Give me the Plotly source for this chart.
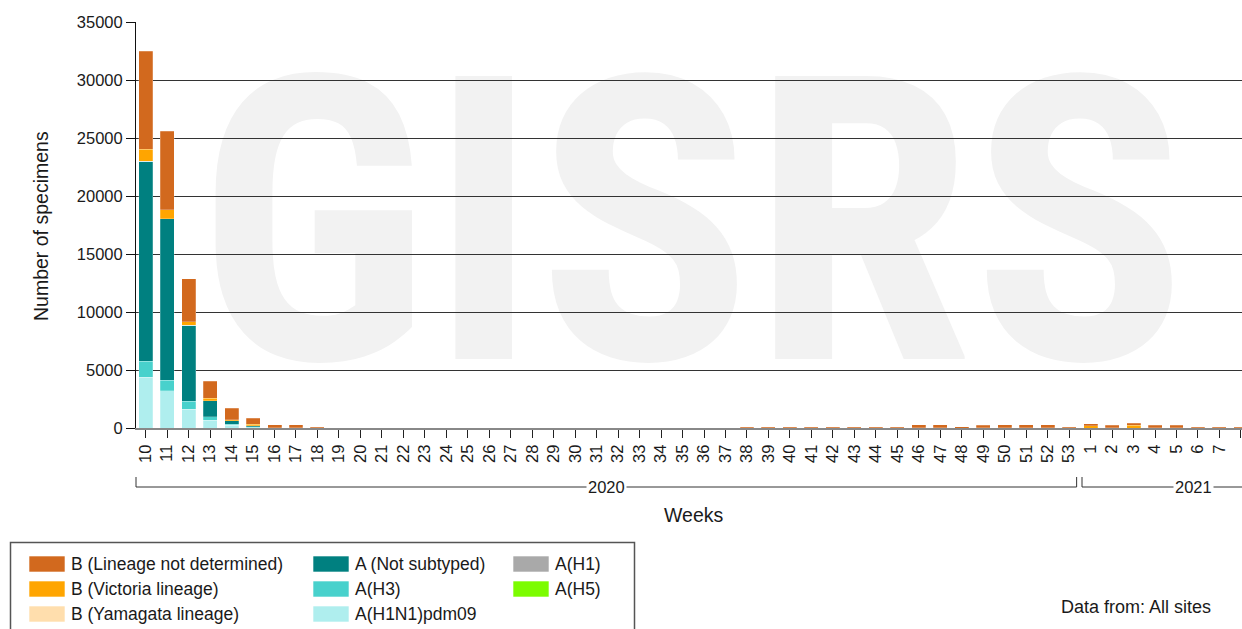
import plotly.graph_objects as go

# ---------------- data ----------------
weeks = ["10", "11", "12", "13", "14", "15", "16", "17", "18", "19",
         "20", "21", "22", "23", "24", "25", "26", "27", "28", "29",
         "30", "31", "32", "33", "34", "35", "36", "37", "38", "39",
         "40", "41", "42", "43", "44", "45", "46", "47", "48", "49",
         "50", "51", "52", "53", "1", "2", "3", "4", "5", "6", "7", "8"]
years = ["2020", "2021"]

b_not_determined = [8450, 6740, 3700, 1490, 990, 520, 260, 280, 70, 25,
                    15, 20, 10, 15, 10, 10, 15, 10, 10, 15,
                    10, 15, 20, 15, 20, 25, 30, 40, 60, 70,
                    70, 75, 70, 80, 75, 80, 260, 250, 90, 240,
                    250, 260, 250, 80, 170, 230, 170, 230, 220, 80, 70, 70]
b_victoria = [1000, 770, 310, 200, 90, 120, 20, 20, 0, 0,
              0, 0, 0, 0, 0, 0, 0, 0, 0, 0,
              0, 0, 0, 0, 0, 0, 0, 0, 0, 0,
              0, 0, 0, 0, 0, 0, 10, 10, 0, 10,
              10, 10, 10, 0, 200, 20, 220, 20, 20, 0, 0, 0]
b_yamagata = [0, 0, 0, 0, 0, 0, 0, 0, 0, 0,
              0, 0, 0, 0, 0, 0, 0, 0, 0, 0,
              0, 0, 0, 0, 0, 0, 0, 0, 0, 0,
              0, 0, 0, 0, 0, 0, 0, 0, 0, 0,
              0, 0, 0, 0, 0, 0, 0, 0, 0, 0, 0, 0]
a_not_subtyped = [17270, 13930, 6570, 1400, 320, 70, 0, 0, 0, 0,
                  0, 0, 0, 0, 0, 0, 0, 0, 0, 0,
                  0, 0, 0, 0, 0, 0, 0, 0, 0, 0,
                  0, 0, 0, 0, 0, 0, 0, 0, 0, 0,
                  0, 0, 0, 0, 0, 0, 0, 0, 0, 0, 0, 0]
a_h3 = [1380, 920, 690, 260, 90, 30, 0, 0, 0, 0,
        0, 0, 0, 0, 0, 0, 0, 0, 0, 0,
        0, 0, 0, 0, 0, 0, 0, 0, 0, 0,
        0, 0, 0, 0, 0, 0, 0, 0, 0, 0,
        0, 0, 0, 0, 0, 0, 0, 0, 0, 0, 0, 0]
a_h1n1pdm09 = [4360, 3210, 1605, 690, 230, 90, 0, 0, 0, 0,
               0, 0, 0, 0, 0, 0, 0, 0, 0, 0,
               0, 0, 0, 0, 0, 0, 0, 0, 0, 0,
               0, 0, 0, 0, 0, 0, 0, 0, 0, 0,
               0, 0, 0, 0, 0, 0, 0, 0, 0, 0, 0, 0]
a_h1 = [0, 0, 0, 0, 0, 0, 0, 0, 0, 0,
        0, 0, 0, 0, 0, 0, 0, 0, 0, 0,
        0, 0, 0, 0, 0, 0, 0, 0, 0, 0,
        0, 0, 0, 0, 0, 0, 0, 0, 0, 0,
        0, 0, 0, 0, 0, 0, 0, 0, 0, 0, 0, 0]
a_h5 = [0, 0, 0, 0, 0, 0, 0, 0, 0, 0,
        0, 0, 0, 0, 0, 0, 0, 0, 0, 0,
        0, 0, 0, 0, 0, 0, 0, 0, 0, 0,
        0, 0, 0, 0, 0, 0, 0, 0, 0, 0,
        0, 0, 0, 0, 0, 0, 0, 0, 0, 0, 0, 0]

# stacking order: bottom -> top
series = [
    ("A(H1N1)pdm09", a_h1n1pdm09, "#AFEEEE"),
    ("A(H3)", a_h3, "#48D1CC"),
    ("A (Not subtyped)", a_not_subtyped, "#008080"),
    ("A(H1)", a_h1, "#A9A9A9"),
    ("A(H5)", a_h5, "#7CFC00"),
    ("B (Yamagata lineage)", b_yamagata, "#FFDEAD"),
    ("B (Victoria lineage)", b_victoria, "#FFA500"),
    ("B (Lineage not determined)", b_not_determined, "#D2691E"),
]
color_of = {n: c for n, _, c in series}

legend_items = [
    ("B (Lineage not determined)", 0, 0),
    ("B (Victoria lineage)", 0, 1),
    ("B (Yamagata lineage)", 0, 2),
    ("A (Not subtyped)", 1, 0),
    ("A(H3)", 1, 1),
    ("A(H1N1)pdm09", 1, 2),
    ("A(H1)", 2, 0),
    ("A(H5)", 2, 1),
]

# ---------------- geometry ----------------
W, H = 1242, 629
L, R, T, B = 136, 0, 22, 201
PW, PH = W - L - R, H - T - B
XMIN, XMAX = -0.45, 51.05
FONT = "Liberation Sans, Arial, sans-serif"
TXT = "#1a1a1a"


def px_x(px):
    return (px - L) / PW


def px_y(py):
    return (H - B - py) / PH


def idx_x(i):
    return (i - XMIN) / (XMAX - XMIN)


positions = list(range(len(weeks)))

fig = go.Figure()
for name, vals, color in series:
    fig.add_trace(go.Bar(
        x=positions, y=vals, name=name, showlegend=False,
        marker=dict(color=color, line=dict(color="rgba(255,255,255,0.45)", width=0.5)),
        hovertemplate=name + "<br>%{y}<extra></extra>",
    ))

shapes = []
annotations = []

# watermark (drawn below the grid lines)
shapes.append(dict(
    type="rect", xref="paper", yref="paper", layer="below",
    x0=px_x(179), x1=px_x(1205), y0=px_y(340), y1=px_y(48),
    line=dict(width=0), fillcolor="rgba(0,0,0,0)",
    label=dict(text="GISRS", textposition="middle center",
               font=dict(family="Roboto Condensed, DejaVu Sans Condensed",
                         size=398, color="#f2f2f2", weight="bold")),
))

# year brackets
yb = px_y(487)
yt = px_y(477)
bounds = [(XMIN, 43.35), (43.6, 53.0)]
label_x = [None, 48.8]
for k, yr in enumerate(years):
    a, b = bounds[k]
    shapes.append(dict(type="line", xref="paper", yref="paper",
                       x0=idx_x(a), x1=idx_x(b), y0=yb, y1=yb,
                       line=dict(color="#333", width=1)))
    shapes.append(dict(type="line", xref="paper", yref="paper",
                       x0=idx_x(a), x1=idx_x(a), y0=yb, y1=yt,
                       line=dict(color="#333", width=1)))
    if b < XMAX:
        shapes.append(dict(type="line", xref="paper", yref="paper",
                           x0=idx_x(b), x1=idx_x(b), y0=yb, y1=yt,
                           line=dict(color="#333", width=1)))
    cx = idx_x((a + b) / 2) if label_x[k] is None else idx_x(label_x[k])
    annotations.append(dict(text=yr, xref="paper", yref="paper", x=cx, y=yb,
                            xanchor="center", yanchor="middle",
                            showarrow=False, bgcolor="white", borderpad=1,
                            font=dict(size=16.5, color=TXT, family=FONT)))

annotations.append(dict(text="Number of specimens", xref="paper", yref="paper",
                        x=px_x(41), y=px_y(226), textangle=-90, showarrow=False,
                        xanchor="center", yanchor="middle",
                        font=dict(size=19.5, color=TXT, family=FONT)))
annotations.append(dict(text="Weeks", xref="paper", yref="paper",
                        x=px_x(693), y=px_y(515), showarrow=False,
                        xanchor="center", yanchor="middle",
                        font=dict(size=19.5, color=TXT, family=FONT)))

# legend
shapes.append(dict(type="rect", xref="paper", yref="paper",
                   x0=px_x(10.5), x1=px_x(634.5), y0=px_y(645), y1=px_y(542.5),
                   line=dict(color="#555", width=1.5), fillcolor="white"))
col_x = [29, 313, 513]
row_y = [564, 589, 614]
for name, c, r in legend_items:
    x0 = col_x[c]
    yc = row_y[r]
    shapes.append(dict(type="rect", xref="paper", yref="paper",
                       x0=px_x(x0), x1=px_x(x0 + 36), y0=px_y(yc + 8), y1=px_y(yc - 8),
                       line=dict(color="rgba(255,255,255,0.6)", width=1),
                       fillcolor=color_of[name]))
    annotations.append(dict(text=name, xref="paper", yref="paper",
                            x=px_x(x0 + 40), y=px_y(yc), xanchor="left", yanchor="middle",
                            showarrow=False, font=dict(size=17.5, color=TXT, family=FONT)))

annotations.append(dict(text="Data from: All sites", xref="paper", yref="paper",
                        x=px_x(1059), y=px_y(607), xanchor="left", yanchor="middle",
                        showarrow=False, font=dict(size=18, color=TXT, family=FONT)))

fig.update_layout(
    width=W, height=H,
    margin=dict(l=L, r=R, t=T, b=B, pad=0),
    barmode="stack", bargap=0.35,
    paper_bgcolor="white", plot_bgcolor="rgba(0,0,0,0)",
    font=dict(family=FONT, color=TXT),
    showlegend=False,
    shapes=shapes, annotations=annotations,
    xaxis=dict(range=[XMIN, XMAX], tickmode="array", tickvals=positions, ticktext=weeks,
               tickangle=-90, ticks="outside", ticklen=8, tickcolor="#222", tickwidth=1,
               layer="below traces",
               showline=True, linecolor="#888", linewidth=2, showgrid=False, zeroline=False,
               tickfont=dict(size=16.5, color=TXT, family=FONT)),
    yaxis=dict(range=[0, 35000], tickmode="array",
               tickvals=[0, 5000, 10000, 15000, 20000, 25000, 30000, 35000], tickformat="d",
               showgrid=True, gridcolor="#333", gridwidth=1,
               showline=True, linecolor="#111", linewidth=1, zeroline=False,
               ticks="outside", ticklen=9, tickcolor="#111",
               tickfont=dict(size=16.5, color=TXT, family=FONT)),
)

fig.write_html("out.html", config={"displayModeBar": False},
               post_script="document.body.style.margin='0px';")
